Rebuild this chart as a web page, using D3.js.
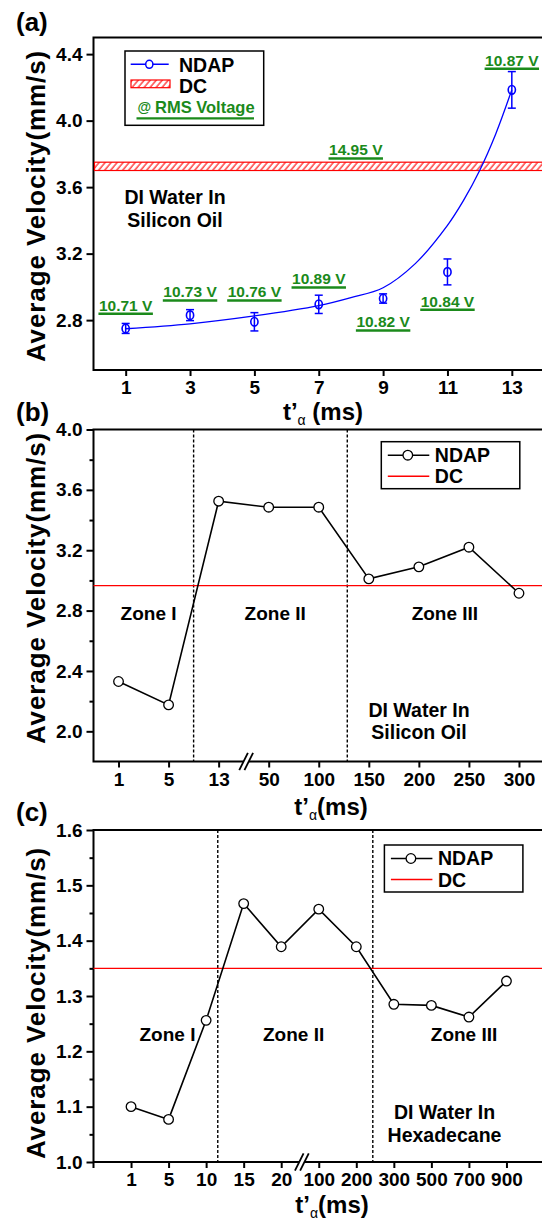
<!DOCTYPE html>
<html>
<head>
<meta charset="utf-8">
<script src="https://cdn.jsdelivr.net/npm/d3@7"></script>
<style>
  body { margin: 0; background: #fff; }
  svg { display: block; font-family: "Liberation Sans", Arial, sans-serif; }
</style>
</head>
<body>
<div id="chart"></div>
<script>
// ---- data: panel (a), DI water in silicon oil, odd t'α ----
const aTimes = [1, 3, 5, 7, 9, 11, 13];
const aVelocity = [2.75, 2.83, 2.79, 2.895, 2.93, 3.09, 4.185];
const aError = [0.03, 0.033, 0.055, 0.055, 0.028, 0.078, 0.11];
const aVoltage = ["10.71 V", "10.73 V", "10.76 V", "10.89 V", "10.82 V", "10.84 V", "10.87 V"];
const aFitTimes = [1, 3, 5, 7, 8, 9, 10, 11, 11.5, 12, 12.5, 13];
const aFitVelocity = [2.748, 2.778, 2.825, 2.887, 2.935, 2.995, 3.14, 3.37, 3.52, 3.70, 3.92, 4.185];
const aDCBand = [3.70, 3.75];
const aDCVoltage = "14.95 V";
const aYTicks = [2.8, 3.2, 3.6, 4.0, 4.4];

// ---- data: panel (b), DI water in silicon oil ----
const bTimes = ["1", "5", "13", "50", "100", "150", "200", "250", "300"];
const bVelocity = [2.33, 2.175, 3.525, 3.485, 3.485, 3.01, 3.09, 3.22, 2.915];
const bDC = 2.965;
const bYTicks = [2.0, 2.4, 2.8, 3.2, 3.6, 4.0];

// ---- data: panel (c), DI water in hexadecane ----
const cTimes = ["1", "5", "10", "15", "20", "100", "200", "300", "500", "700", "900"];
const cVelocity = [1.10, 1.077, 1.256, 1.467, 1.389, 1.457, 1.389, 1.285, 1.283, 1.262, 1.327];
const cDC = 1.35;
const cYTicks = [1.0, 1.1, 1.2, 1.3, 1.4, 1.5, 1.6];

const zoneNames = ["Zone I", "Zone II", "Zone III"];

// ---- layout ----
const width = 542, height = 1221;
const left = 93.5, right = 544;
const green = "#1b8a1b";

const svg = d3.select("#chart").append("svg")
  .attr("width", width)
  .attr("height", height);

const defs = svg.append("defs");
const hatch = defs.append("pattern")
  .attr("id", "hatch")
  .attr("patternUnits", "userSpaceOnUse")
  .attr("width", 4.6)
  .attr("height", 10)
  .attr("patternTransform", "rotate(40)");
hatch.append("rect").attr("width", 4.6).attr("height", 10).attr("fill", "#fff");
hatch.append("line")
  .attr("x1", 1).attr("x2", 1).attr("y1", 0).attr("y2", 10)
  .attr("stroke", "red").attr("stroke-width", 1.1);

function drawFrame(y, x, cfg) {
  const g = svg.append("g");

  // y axis
  const yAxis = g.append("g")
    .attr("transform", `translate(${left},0)`)
    .call(d3.axisLeft(y).tickValues(cfg.yTicks).tickSize(7).tickPadding(4)
      .tickFormat(d3.format(".1f")));
  if (cfg.yMinor) {
    g.append("g")
      .attr("transform", `translate(${left},0)`)
      .call(d3.axisLeft(y).tickValues(cfg.yMinor).tickSize(4).tickFormat(""))
      .call(a => a.select(".domain").remove());
  }

  // x axis
  const xAxis = g.append("g")
    .attr("transform", `translate(0,${cfg.bottom})`)
    .call(d3.axisBottom(x).tickValues(cfg.xTicks).tickSize(6).tickPadding(5)
      .tickFormat(cfg.xFormat));

  [yAxis, xAxis].forEach(a => {
    a.select(".domain").remove();
    a.selectAll("text")
      .attr("fill", "#000")
      .style("font-size", "19px")
      .style("font-weight", "bold")
      .style("font-family", "'Liberation Sans', Arial, sans-serif");
  });
  g.selectAll("line").attr("stroke", "#000").attr("stroke-width", 2);

  // box
  g.append("rect")
    .attr("x", left)
    .attr("y", cfg.top)
    .attr("width", right - left)
    .attr("height", cfg.bottom - cfg.top)
    .attr("fill", "none")
    .attr("stroke", "#000")
    .attr("stroke-width", 2);

  // panel letter
  svg.append("text")
    .attr("x", 16)
    .attr("y", cfg.letterY)
    .style("font-size", "26px")
    .style("font-weight", "bold")
    .text(cfg.letter);

  // y title
  svg.append("text")
    .attr("transform", `translate(45,${cfg.yTitleY}) rotate(-90)`)
    .attr("text-anchor", "middle")
    .style("font-size", "26px")
    .style("font-weight", "bold")
    .style("letter-spacing", "0.9px")
    .text("Average Velocity(mm/s)");

  // x title
  const xt = svg.append("text")
    .attr("x", cfg.xTitleX)
    .attr("y", cfg.xTitleY)
    .attr("text-anchor", "middle")
    .style("font-size", "24px")
    .style("font-weight", "bold");
  xt.append("tspan").text("t\u2019");
  xt.append("tspan")
    .attr("dy", 5)
    .style("font-size", "14px")
    .style("font-weight", "normal")
    .text("\u03b1");
  xt.append("tspan").attr("dy", -5).text(cfg.spaced ? " (ms)" : "(ms)");

  return g;
}

function drawBreak(xPos, yPos) {
  const g = svg.append("g");
  g.append("polygon")
    .attr("points", `${xPos - 6.5},${yPos + 8.6} ${xPos - 1.3},${yPos + 8.6} ${xPos + 6.5},${yPos - 8.6} ${xPos + 1.3},${yPos - 8.6}`)
    .attr("fill", "#fff");
  [-2.6, 2.6].forEach(o => {
    g.append("line")
      .attr("x1", xPos + o - 4.3).attr("y1", yPos + 8.6)
      .attr("x2", xPos + o + 4.3).attr("y2", yPos - 8.6)
      .attr("stroke", "#000").attr("stroke-width", 1.8);
  });
}

function drawLegend(x0, y0, w, h) {
  svg.append("rect")
    .attr("x", x0).attr("y", y0).attr("width", w).attr("height", h)
    .attr("fill", "#fff").attr("stroke", "#000").attr("stroke-width", 1.5);
  const l = svg.append("g").attr("transform", `translate(${x0},${y0})`);
  l.append("line").attr("x1", 6.5).attr("x2", 48).attr("y1", 13.5).attr("y2", 13.5)
    .attr("stroke", "#000").attr("stroke-width", 1.6);
  l.append("circle").attr("cx", 26.5).attr("cy", 13.5).attr("r", 4.8)
    .attr("fill", "#fff").attr("stroke", "#000").attr("stroke-width", 1.3);
  l.append("text").attr("x", 53.5).attr("y", 20).text("NDAP")
    .style("font-size", "19.5px").style("font-weight", "bold");
  l.append("line").attr("x1", 6.5).attr("x2", 48).attr("y1", 34.5).attr("y2", 34.5)
    .attr("stroke", "red").attr("stroke-width", 1.6);
  l.append("text").attr("x", 53.5).attr("y", 41.5).text("DC")
    .style("font-size", "19.5px").style("font-weight", "bold");
}

function drawNote(cx, y1, lines) {
  lines.forEach((t, i) => {
    svg.append("text")
      .attr("x", cx).attr("y", y1 + i * 22.7)
      .attr("text-anchor", "middle")
      .style("font-size", "19.5px").style("font-weight", "bold")
      .text(t);
  });
}

function greenLabel(cx, underY, txt) {
  const t = svg.append("text")
    .attr("x", cx).attr("y", underY - 3.2)
    .attr("text-anchor", "middle")
    .attr("fill", green)
    .style("font-size", "15.5px").style("font-weight", "bold")
    .text(txt);
  const w = t.node().getComputedTextLength();
  svg.append("line")
    .attr("x1", cx - w / 2 - 0.5).attr("x2", cx + w / 2 + 0.5)
    .attr("y1", underY).attr("y2", underY)
    .attr("stroke", green).attr("stroke-width", 2.4);
}

// ================= panel (a) =================
const aCfg = {
  top: 37.5, bottom: 370, yTicks: aYTicks, xTicks: aTimes, xFormat: d3.format("d"),
  letter: "(a)", letterY: 31, yTitleY: 206, xTitleX: 323, xTitleY: 420, spaced: true
};
const xA = d3.scaleLinear().domain([0, 14]).range([left, right]);
const yA = d3.scaleLinear().domain([2.5, 4.5]).range([aCfg.bottom, aCfg.top]);
drawFrame(yA, xA, aCfg);

// DC band
svg.append("rect")
  .attr("x", left + 1)
  .attr("y", yA(aDCBand[1]))
  .attr("width", right - left)
  .attr("height", yA(aDCBand[0]) - yA(aDCBand[1]))
  .attr("fill", "url(#hatch)")
  .attr("stroke", "red")
  .attr("stroke-width", 1.2);

// fitted curve
const aFit = aFitTimes.map((t, i) => [t, aFitVelocity[i]]);
svg.append("path")
  .datum(aFit)
  .attr("fill", "none")
  .attr("stroke", "blue")
  .attr("stroke-width", 1.3)
  .attr("d", d3.line().x(d => xA(d[0])).y(d => yA(d[1])).curve(d3.curveCatmullRom.alpha(0.5)));

// error bars + points
const aPts = aTimes.map((t, i) => ({ t, v: aVelocity[i], e: aError[i], lab: aVoltage[i] }));
const eb = svg.append("g").attr("stroke", "blue").attr("stroke-width", 1.5);
aPts.forEach(d => {
  const cx = xA(d.t);
  eb.append("line").attr("x1", cx).attr("x2", cx).attr("y1", yA(d.v - d.e)).attr("y2", yA(d.v + d.e));
  [d.v - d.e, d.v + d.e].forEach(v => {
    eb.append("line").attr("x1", cx - 4).attr("x2", cx + 4).attr("y1", yA(v)).attr("y2", yA(v));
  });
});
svg.append("g").selectAll("ellipse")
  .data(aPts)
  .join("ellipse")
  .attr("cx", d => xA(d.t))
  .attr("cy", d => yA(d.v))
  .attr("rx", 3.6)
  .attr("ry", 4.3)
  .attr("fill", "none")
  .attr("stroke", "blue")
  .attr("stroke-width", 1.6);

// voltage labels (underline level in mm/s)
const aLabelLevel = [2.838, 2.918, 2.918, 2.996, 2.738, 2.862, 4.312];
aPts.forEach((d, i) => greenLabel(xA(d.t), yA(aLabelLevel[i]), d.lab));
greenLabel(xA(8.15), yA(3.772), aDCVoltage);

drawNote(175, 204, ["DI Water In", "Silicon Oil"]);

// legend (a)
svg.append("rect")
  .attr("x", 125).attr("y", 51).attr("width", 138.7).attr("height", 74.3)
  .attr("fill", "#fff").attr("stroke", "#000").attr("stroke-width", 1.5);
svg.append("line").attr("x1", 130.7).attr("x2", 168.7).attr("y1", 64.3).attr("y2", 64.3)
  .attr("stroke", "blue").attr("stroke-width", 1.5);
svg.append("ellipse").attr("cx", 149.3).attr("cy", 64.3).attr("rx", 3.6).attr("ry", 4)
  .attr("fill", "#fff").attr("stroke", "blue").attr("stroke-width", 1.5);
svg.append("text").attr("x", 179).attr("y", 71.5).text("NDAP")
  .style("font-size", "19.5px").style("font-weight", "bold");
svg.append("rect").attr("x", 131).attr("y", 80).attr("width", 39).attr("height", 7.7)
  .attr("fill", "url(#hatch)").attr("stroke", "red").attr("stroke-width", 1.2);
svg.append("text").attr("x", 179).attr("y", 92.5).text("DC")
  .style("font-size", "19.5px").style("font-weight", "bold");
const rms = svg.append("text").attr("x", 137.5).attr("y", 113)
  .attr("fill", green).style("font-weight", "bold");
rms.append("tspan").style("font-size", "14px").attr("dy", -1).text("@");
rms.append("tspan").attr("x", 155).attr("dy", 1).style("font-size", "16.5px").text("RMS Voltage");
svg.append("line").attr("x1", 136.5).attr("x2", 254).attr("y1", 118.3).attr("y2", 118.3)
  .attr("stroke", green).attr("stroke-width", 2.2);

// ================= panel (b) / (c) =================
function drawZonePanel(cfg) {
  const x = d3.scaleLinear().domain(cfg.xDomain).range([left, right]);
  const y = d3.scaleLinear().domain(cfg.yDomain).range([cfg.bottom, cfg.top]);
  const idx = d3.range(cfg.times.length);
  cfg.xTicks = idx;
  cfg.xFormat = i => cfg.times[i];
  drawFrame(y, x, cfg);

  // zone dividers
  svg.append("g").selectAll("line")
    .data(cfg.zoneBounds)
    .join("line")
    .attr("x1", d => x(d)).attr("x2", d => x(d))
    .attr("y1", cfg.top).attr("y2", cfg.bottom)
    .attr("stroke", "#000").attr("stroke-width", 1.4)
    .attr("stroke-dasharray", "3,2");

  // DC reference
  svg.append("line")
    .attr("x1", left).attr("x2", right)
    .attr("y1", y(cfg.dc)).attr("y2", y(cfg.dc))
    .attr("stroke", "red").attr("stroke-width", 1.3);

  // NDAP series
  const pts = idx.map(i => [i, cfg.values[i]]);
  svg.append("path")
    .datum(pts)
    .attr("fill", "none")
    .attr("stroke", "#000")
    .attr("stroke-width", 1.6)
    .attr("d", d3.line().x(d => x(d[0])).y(d => y(d[1])));
  svg.append("g").selectAll("circle")
    .data(pts)
    .join("circle")
    .attr("cx", d => x(d[0]))
    .attr("cy", d => y(d[1]))
    .attr("r", 4.8)
    .attr("fill", "#fff")
    .attr("stroke", "#000")
    .attr("stroke-width", 1.3);

  drawBreak(x(cfg.breakAt), cfg.bottom);
  if (cfg.cornerTick) {
    svg.append("line").attr("x1", left).attr("x2", left)
      .attr("y1", cfg.bottom).attr("y2", cfg.bottom + 6)
      .attr("stroke", "#000").attr("stroke-width", 2);
  }

  // zone names
  cfg.zoneX.forEach((zx, i) => {
    svg.append("text")
      .attr("x", x(zx)).attr("y", cfg.zoneY)
      .attr("text-anchor", "middle")
      .style("font-size", "19px").style("font-weight", "bold")
      .text(zoneNames[i]);
  });

  drawLegend(cfg.legendX, cfg.legendY, 138.5, 47);
  drawNote(cfg.noteX, cfg.noteY, cfg.note);
}

drawZonePanel({
  times: bTimes, values: bVelocity, dc: bDC,
  top: 429.5, bottom: 761.5, yDomain: [1.8, 4.0], xDomain: [-0.5, 8.5],
  yTicks: bYTicks, yMinor: [2.2, 2.6, 3.0, 3.4, 3.8],
  zoneBounds: [1.5, 4.57], breakAt: 2.55,
  zoneX: [0.6, 3.13, 6.52], zoneY: 619.5,
  legendX: 381.3, legendY: 441.7,
  noteX: 419, noteY: 716.7, note: ["DI Water In", "Silicon Oil"],
  letter: "(b)", letterY: 421, yTitleY: 588, xTitleX: 331, xTitleY: 815, spaced: false
});

drawZonePanel({
  times: cTimes, values: cVelocity, dc: cDC,
  top: 830, bottom: 1162, yDomain: [1.0, 1.6], xDomain: [-1, 11],
  yTicks: cYTicks, yMinor: [1.05, 1.15, 1.25, 1.35, 1.45, 1.55],
  zoneBounds: [2.31, 6.44], breakAt: 4.55, cornerTick: true,
  zoneX: [0.97, 4.33, 8.87], zoneY: 1040.7,
  legendX: 384.4, legendY: 845,
  noteX: 444.5, noteY: 1119, note: ["DI Water In", "Hexadecane"],
  letter: "(c)", letterY: 821, yTitleY: 1003, xTitleX: 332, xTitleY: 1213, spaced: false
});
</script>
</body>
</html>
